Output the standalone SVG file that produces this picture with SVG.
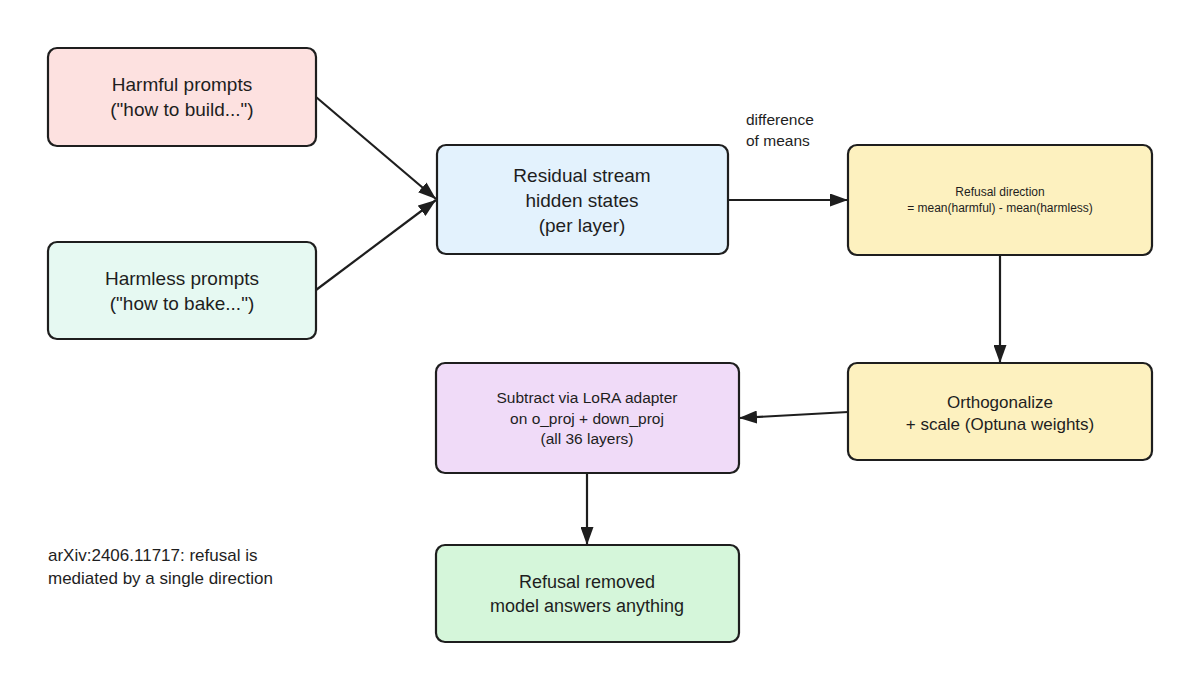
<svg xmlns="http://www.w3.org/2000/svg" width="1200" height="675" viewBox="0 0 1200 675">
<style>
.n{stroke:#1e1e1e;stroke-width:2.2}
.t{font-family:"Liberation Sans",Arial,sans-serif;fill:#1e1e1e;text-anchor:middle}
.l{font-family:"Liberation Sans",Arial,sans-serif;fill:#1e1e1e}
.c{stroke:#1e1e1e;stroke-width:2.2;fill:none;marker-end:url(#ah)}
</style>
<defs>
<marker id="ah" viewBox="0 0 18 13" refX="18" refY="6.5" markerWidth="18" markerHeight="13" markerUnits="userSpaceOnUse" orient="auto">
<path d="M0,0 L18,6.5 L0,13 z" fill="#1e1e1e"/>
</marker>
</defs>
<rect width="1200" height="675" fill="#ffffff"/>
<g id="connectors">
<line class="c" x1="316" y1="97" x2="436" y2="199"/>
<line class="c" x1="316" y1="290" x2="436" y2="200"/>
<line class="c" x1="728" y1="200" x2="848" y2="200"/>
<line class="c" x1="1000" y1="255" x2="1000" y2="363"/>
<line class="c" x1="848" y1="412" x2="739" y2="418"/>
<line class="c" x1="587" y1="473" x2="587" y2="545"/>
</g>
<g id="harmful">
<rect class="n" x="48" y="48" width="268" height="98" rx="9" fill="#fde1e0"/>
<text class="t" x="182" y="91" font-size="19">Harmful prompts</text>
<text class="t" x="182" y="116" font-size="19">("how to build...")</text>
</g>
<g id="harmless">
<rect class="n" x="48" y="242" width="268" height="97" rx="9" fill="#e6f9f2"/>
<text class="t" x="182" y="285" font-size="19">Harmless prompts</text>
<text class="t" x="182" y="310" font-size="19">("how to bake...")</text>
</g>
<g id="residual">
<rect class="n" x="437" y="145" width="291" height="109" rx="9" fill="#e3f2fd"/>
<text class="t" x="582" y="182" font-size="19">Residual stream</text>
<text class="t" x="582" y="207" font-size="19">hidden states</text>
<text class="t" x="582" y="232" font-size="19">(per layer)</text>
</g>
<g id="diff-label">
<text class="l" x="746" y="125" font-size="15.5">difference</text>
<text class="l" x="746" y="146" font-size="15.5">of means</text>
</g>
<g id="refusal-direction">
<rect class="n" x="848" y="145" width="304" height="110" rx="9" fill="#fdf1bf"/>
<text class="t" x="1000" y="196" font-size="12">Refusal direction</text>
<text class="t" x="1000" y="212" font-size="12">= mean(harmful) - mean(harmless)</text>
</g>
<g id="orthogonalize">
<rect class="n" x="848" y="363" width="304" height="97" rx="9" fill="#fdf1bf"/>
<text class="t" x="1000" y="408" font-size="17">Orthogonalize</text>
<text class="t" x="1000" y="430" font-size="17">+ scale (Optuna weights)</text>
</g>
<g id="subtract">
<rect class="n" x="436" y="363" width="303" height="110" rx="9" fill="#f0dbf8"/>
<text class="t" x="587" y="403" font-size="15.5">Subtract via LoRA adapter</text>
<text class="t" x="587" y="424" font-size="15.5">on o_proj + down_proj</text>
<text class="t" x="587" y="444" font-size="15.5">(all 36 layers)</text>
</g>
<g id="removed">
<rect class="n" x="436" y="545" width="303" height="97" rx="9" fill="#d5f6da"/>
<text class="t" x="587" y="588" font-size="18">Refusal removed</text>
<text class="t" x="587" y="612" font-size="18">model answers anything</text>
</g>
<g id="footnote">
<text class="l" x="48" y="561" font-size="17">arXiv:2406.11717: refusal is</text>
<text class="l" x="48" y="584" font-size="17">mediated by a single direction</text>
</g>
</svg>
